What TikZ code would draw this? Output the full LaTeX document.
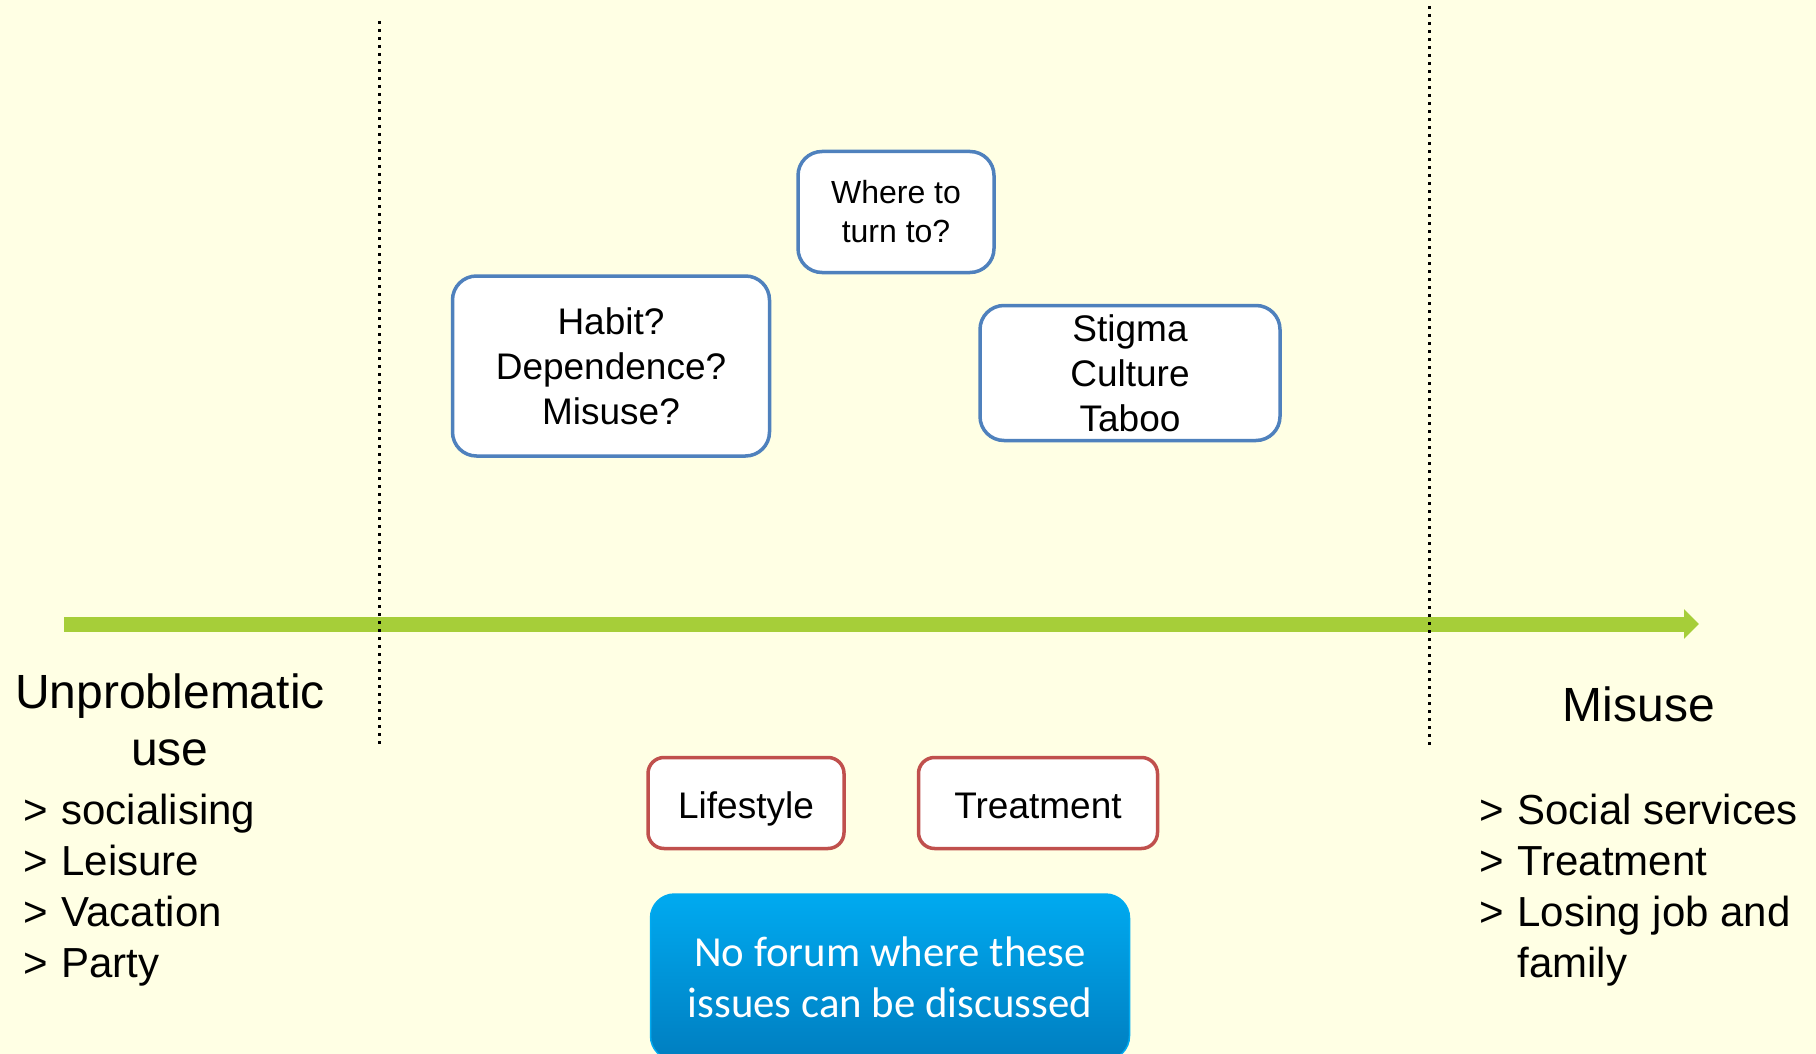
\documentclass[tikz,border=0pt]{standalone}
\usepackage{fontspec}
\setmainfont{Liberation Sans}
\newfontfamily\forumfont{Carlito}
\usetikzlibrary{arrows.meta,positioning}

\definecolor{bgyellow}{RGB}{255,255,228}
\definecolor{boxblue}{RGB}{79,129,189}
\definecolor{boxred}{RGB}{192,80,77}
\definecolor{axisgreen}{RGB}{166,206,57}
\definecolor{forumtop}{RGB}{0,170,240}
\definecolor{forumbot}{RGB}{0,126,192}
\newcommand{\lstitem}[1]{\makebox[19pt][l]{>}#1}

\begin{document}
\begin{tikzpicture}[x=0.5pt,y=-0.5pt,>=Latex,
  qbox/.style={draw=boxblue,line width=1.75pt,fill=white,rounded corners=12pt,align=center,inner sep=0pt},
  rbox/.style={draw=boxred,line width=1.75pt,fill=white,rounded corners=8pt,align=center,inner sep=0pt,minimum height=45.5pt,text height=15pt,text depth=0pt,font=\fontsize{18.5}{22.5}\selectfont},
  sep/.style={line width=1.5pt,dash pattern=on 1.5pt off 2.5pt},
  head/.style={align=center,inner sep=0pt,font=\fontsize{24}{28.5}\selectfont},
  lst/.style={align=left,anchor=north west,inner sep=0pt,font=\fontsize{21}{25.5}\selectfont}]
\clip (0,0) rectangle (1816,1054);
\fill[bgyellow] (0,0) rectangle (1816,1054);

% time line with the two borders
\coordinate (start) at (64,624);
\coordinate (end) at (1699,624);
\coordinate (lt) at (379,21);
\coordinate (lb) at (379,747);
\coordinate (rt) at (1429,6);
\coordinate (rb) at (1429,747);
\draw[axisgreen,line width=7.5pt,-{Triangle[length=7.5pt,width=14.5pt]}] (start)--(end);
\draw[sep] (lt)--(lb);
\draw[sep] (rt)--(rb);

% questions in the grey zone
\node[qbox,minimum width=98pt,minimum height=60.5pt,font=\fontsize{16}{19.5}\selectfont] (where) at (896,212) {Where to\\turn to?};
\node[qbox,minimum width=158.5pt,minimum height=90pt,font=\fontsize{18.5}{22.5}\selectfont] (habit) at (611,366) {Habit?\\Dependence?\\Misuse?};
\node[qbox,minimum width=150pt,minimum height=67.5pt,font=\fontsize{18.5}{22.5}\selectfont] (stigma) at (1130,373) {Stigma\\Culture\\Taboo};

\node[rbox,minimum width=98pt] (life) at (746,803) {Lifestyle};
\node[rbox,minimum width=119.5pt,right=35.5pt of life] (treat) {Treatment};
\node[below=21.5pt of life.south west,anchor=north west,xshift=1.75pt,rounded corners=12pt,top color=forumtop,bottom color=forumbot,draw=forumtop,line width=.75pt,
  minimum width=239.5pt,minimum height=83pt,inner sep=0pt,align=center,text=white,font=\forumfont\fontsize{21.4}{25.5}\selectfont] (forum) {No forum where these\\issues can be discussed};

% both ends of the line
\node[head] (unprob) at (170,720) {Unproblematic\\use};
\node[head] (misuse) at (1639,704) {Misuse};
\node[lst] (leftlist) at (23,794) {\lstitem{socialising}\\\lstitem{Leisure}\\\lstitem{Vacation}\\\lstitem{Party}};
\node[lst] (rightlist) at (1479,794) {\lstitem{Social services}\\\lstitem{Treatment}\\\lstitem{Losing job and}\\\hspace*{19pt}family};
\end{tikzpicture}
\end{document}
